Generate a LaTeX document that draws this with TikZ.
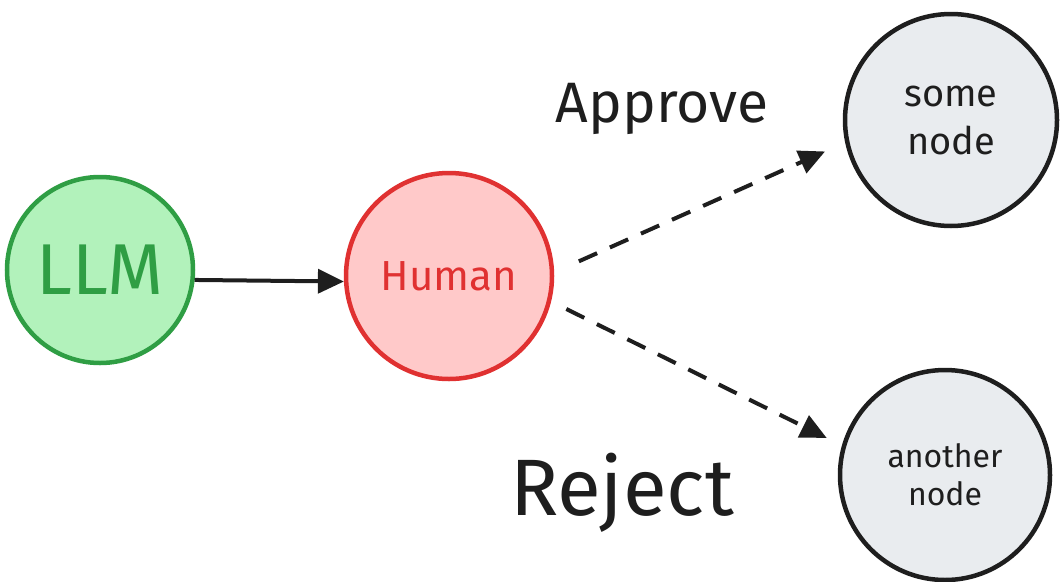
\documentclass[tikz,border=0pt]{standalone}
\usepackage{fontspec}
\setmainfont{Fira Sans}
\usepackage{tikz}
\usetikzlibrary{arrows.meta,shapes}

\definecolor{llmfill}{HTML}{B2F2BB}
\definecolor{llmline}{HTML}{2F9E44}
\definecolor{humanfill}{HTML}{FFC9C9}
\definecolor{humanline}{HTML}{E03131}
\definecolor{endfill}{HTML}{E9ECEF}
\definecolor{ink}{HTML}{1E1E1E}

\tikzset{
  state/.style={circle, line width=4.5pt, inner sep=0pt, align=center},
  flow/.style={line width=4pt, draw=ink, -{Triangle[length=26pt,width=24pt]}},
  choice/.style={flow, dash pattern=on 20pt off 14pt},
  verdict/.style={text=ink, anchor=base}
}

\begin{document}
\begin{tikzpicture}[x=1pt,y=-1pt]
\useasboundingbox (0,0) rectangle (1064,581);

\node[state, draw=llmline, fill=llmfill, text=llmline, minimum size=186pt, font=\fontsize{72}{76}\selectfont] (llm) at (100,270) {LLM};
\node[state, draw=humanline, fill=humanfill, text=humanline, minimum size=206pt, font=\fontsize{42}{46}\selectfont] (human) at (449,276) {Human};
\node[state, draw=ink, fill=endfill, text=ink, minimum size=212pt, font=\fontsize{38}{48}\selectfont] (some) at (951,120) {some\\node};
\node[state, draw=ink, fill=endfill, text=ink, minimum size=210pt, font=\fontsize{32}{38}\selectfont] (another) at (945,475) {another\\node};

\node[verdict, font=\fontsize{57}{60}\selectfont] (approve) at (662,122) {Approve};
\node[verdict, font=\fontsize{80}{84}\selectfont] (reject) at (622,515) {Reject};

\draw[flow] (llm.-6) -- (human.183);
\draw[choice, shorten <=27pt, shorten >=22pt] (human.2) -- (some.192);
\draw[choice, shorten <=17pt, shorten >=17pt] (human.-14) -- (another.164);
\end{tikzpicture}
\end{document}
